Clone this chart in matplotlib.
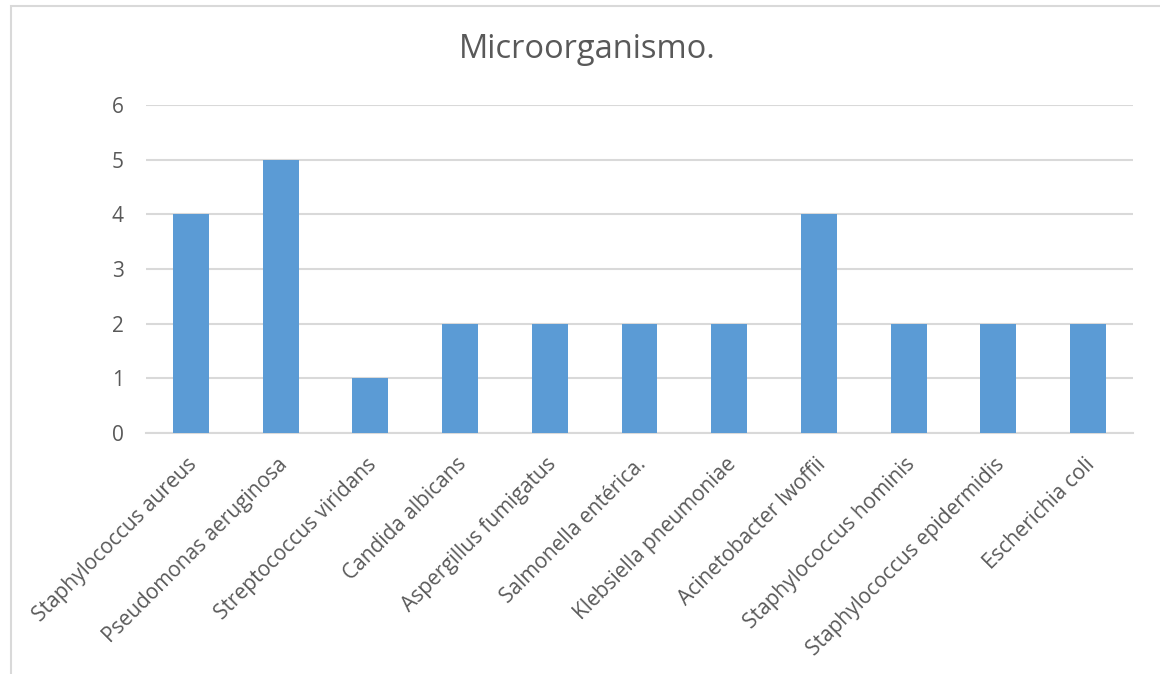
import matplotlib
matplotlib.use("Agg")
import matplotlib.pyplot as plt
from matplotlib.patches import Rectangle
from matplotlib.transforms import ScaledTranslation

categories = [
    "Staphylococcus aureus",
    "Pseudomonas aeruginosa",
    "Streptococcus viridans",
    "Candida albicans",
    "Aspergillus fumigatus",
    "Salmonella entérica.",
    "Klebsiella pneumoniae",
    "Acinetobacter lwoffii",
    "Staphylococcus hominis",
    "Staphylococcus epidermidis",
    "Escherichia coli",
]
counts = [4, 5, 1, 2, 2, 2, 2, 4, 2, 2, 2]
y_ticks = [0, 1, 2, 3, 4, 5, 6]
title = "Microorganismo."

plt.rcParams["font.family"] = ["Open Sans", "DejaVu Sans"]
text_color = "#595959"
grid_color = "#d9d9d9"
bar_color = "#5b9bd5"

fig = plt.figure(figsize=(11.6, 6.74), dpi=100)
fig.patch.set_facecolor("white")

# chart area frame
fig.add_artist(Rectangle((11 / 1160, -0.05), 1.2, 1 - 6 / 674 + 0.05,
                         transform=fig.transFigure, fill=False,
                         edgecolor=grid_color, linewidth=1.5))

ax = fig.add_axes([146 / 1160, 1 - 433 / 674, (1133 - 146) / 1160, (433 - 105) / 674])
x = list(range(len(categories)))
ax.bar(x, counts, width=0.4, color=bar_color, zorder=3)
ax.set_xlim(-0.5, len(categories) - 0.5)
ax.set_ylim(0, 6)
ax.set_yticks(y_ticks)
ax.set_yticklabels([str(t) for t in y_ticks], fontsize=15, color=text_color)
ax.yaxis.grid(True, color=grid_color, linewidth=1.5, zorder=0)
ax.set_axisbelow(True)
for side in ["top", "right", "left"]:
    ax.spines[side].set_visible(False)
ax.spines["bottom"].set_color(grid_color)
ax.spines["bottom"].set_linewidth(1.5)
ax.tick_params(axis="both", length=0)
ax.tick_params(axis="y", pad=16)
ax.set_xticks(x)
ax.set_xticklabels(categories, rotation=45, ha="right", rotation_mode="anchor",
                   fontsize=15, color=text_color)
ax.tick_params(axis="x", pad=15)
shift = ScaledTranslation(-4 / 100, 0, fig.dpi_scale_trans)
for lbl in ax.get_xticklabels():
    lbl.set_transform(lbl.get_transform() + shift)

fig.text(587 / 1160, 1 - 50 / 674, title, ha="center", va="center",
         fontsize=23.5, color=text_color)

fig.savefig("out.png", dpi=100, facecolor="white")
